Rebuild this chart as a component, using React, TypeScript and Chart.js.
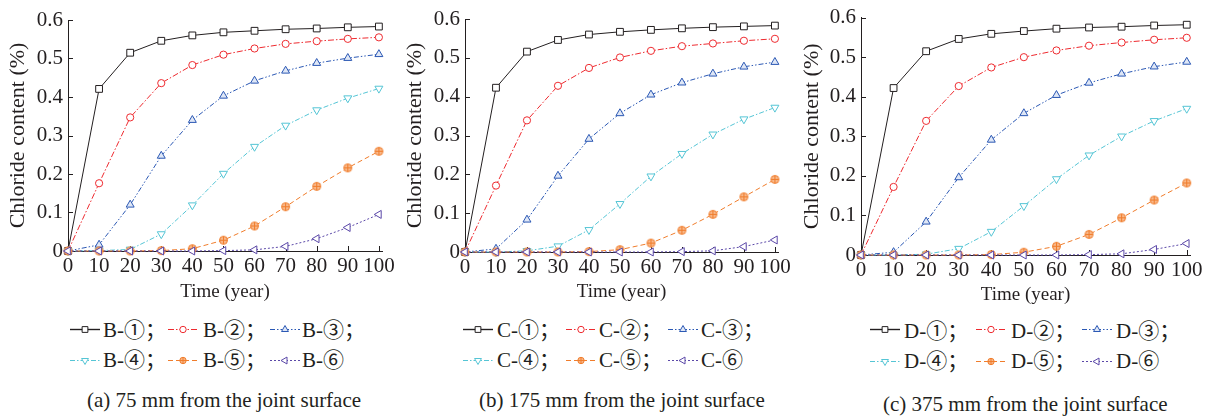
import React, { useEffect, useRef } from 'react';
import { Chart, registerables } from 'chart.js';

Chart.register(...registerables);

// ---------------- data ----------------
const YEARS = [0, 10, 20, 30, 40, 50, 60, 70, 80, 90, 100];
const X_TICKS = [0, 10, 20, 30, 40, 50, 60, 70, 80, 90, 100];
const Y_TICKS = [0, 0.1, 0.2, 0.3, 0.4, 0.5, 0.6];
const X_MAX = 101;
const Y_MAX = 0.6;

const B_1 = [0, 0.421, 0.515, 0.546, 0.56, 0.568, 0.572, 0.576, 0.578, 0.581, 0.583];
const B_2 = [0, 0.176, 0.347, 0.436, 0.483, 0.51, 0.526, 0.538, 0.545, 0.551, 0.555];
const B_3 = [0, 0.016, 0.12, 0.247, 0.34, 0.403, 0.442, 0.468, 0.488, 0.501, 0.511];
const B_4 = [0, 0.001, 0.004, 0.044, 0.119, 0.201, 0.271, 0.326, 0.366, 0.397, 0.422];
const B_5 = [0, 0, 0, 0.001, 0.006, 0.028, 0.065, 0.115, 0.168, 0.216, 0.259];
const B_6 = [0, 0, 0, 0, 0, 0.001, 0.003, 0.012, 0.032, 0.061, 0.095];

const C_1 = [0, 0.423, 0.516, 0.546, 0.56, 0.567, 0.572, 0.576, 0.579, 0.581, 0.583];
const C_2 = [0, 0.171, 0.339, 0.428, 0.474, 0.501, 0.518, 0.53, 0.537, 0.544, 0.549];
const C_3 = [0, 0.008, 0.083, 0.196, 0.291, 0.357, 0.405, 0.436, 0.459, 0.477, 0.489];
const C_4 = [0, 0, 0.003, 0.015, 0.057, 0.124, 0.195, 0.253, 0.303, 0.342, 0.372];
const C_5 = [0, 0, 0, 0, 0.001, 0.006, 0.023, 0.056, 0.097, 0.142, 0.187];
const C_6 = [0, 0, 0, 0, 0, 0, 0, 0.001, 0.003, 0.014, 0.031];

const D_1 = [0, 0.422, 0.515, 0.546, 0.559, 0.566, 0.572, 0.575, 0.577, 0.58, 0.582];
const D_2 = [0, 0.172, 0.339, 0.427, 0.474, 0.5, 0.517, 0.529, 0.537, 0.544, 0.549];
const D_3 = [0, 0.007, 0.084, 0.196, 0.291, 0.358, 0.404, 0.435, 0.458, 0.476, 0.488];
const D_4 = [0, 0, 0.002, 0.016, 0.059, 0.124, 0.192, 0.252, 0.3, 0.339, 0.37];
const D_5 = [0, 0, 0, 0, 0.001, 0.007, 0.022, 0.052, 0.094, 0.139, 0.182];
const D_6 = [0, 0, 0, 0, 0, 0, 0, 0.001, 0.003, 0.014, 0.029];

const PANEL_SERIES = [
  [B_1, B_2, B_3, B_4, B_5, B_6],
  [C_1, C_2, C_3, C_4, C_5, C_6],
  [D_1, D_2, D_3, D_4, D_5, D_6],
];
const PANEL_PREFIX = ['B', 'C', 'D'];
const SERIES_MARK = ['①', '②', '③', '④', '⑤', '⑥'];
const CAPTIONS = [
  '(a) 75 mm from the joint surface',
  '(b) 175 mm from the joint surface',
  '(c) 375 mm from the joint surface',
];
const Y_TITLE = 'Chloride content (%)';
const X_TITLE = 'Time (year)';

// ---------------- styles / layout ----------------
const SERIF = "'Liberation Serif', 'Times New Roman', serif";
const LEGEND_FONT = "'Liberation Serif', 'Noto Sans CJK SC', serif";
const INK = '#231f20';

type Style = { color: string; dash: number[]; kind: string; radius: number; fill: string; rotation: number };
const STYLES: Style[] = [
  { color: '#231f20', dash: [], kind: 'rect', radius: 4.8, fill: '#ffffff', rotation: 0 },
  { color: '#ee2a2f', dash: [6, 2, 1.5, 2], kind: 'circle', radius: 3.6, fill: '#ffffff', rotation: 0 },
  { color: '#2b58b4', dash: [5, 2, 1.5, 2, 1.5, 2], kind: 'triangle', radius: 4.6, fill: '#dfe7f6', rotation: 0 },
  { color: '#55c5d5', dash: [5, 2, 1.5, 2], kind: 'triangle', radius: 4.6, fill: '#ffffff', rotation: 180 },
  { color: '#f07d2c', dash: [5, 3], kind: 'crosscircle', radius: 4, fill: '#f8b88a', rotation: 0 },
  { color: '#5b48a8', dash: [2, 2], kind: 'triangle', radius: 4.6, fill: '#ffffff', rotation: -90 },
];

const GEOM = [
  { left: 0, w: 410, h: 310, l: 68, r: 382, t: 20, b: 251, yTitleX: 18, xTitleY: 292 },
  { left: 395, w: 410, h: 310, l: 70, r: 383, t: 19, b: 252, yTitleX: 20, xTitleY: 292 },
  { left: 795, w: 420, h: 310, l: 66, r: 395, t: 15, b: 255, yTitleX: 17, xTitleY: 295 },
];

const LEG_SAMPLE_X = [
  [70, 168, 270],
  [463, 566, 668],
  [870, 976, 1082],
];
const LEG_TEXT_X = [
  [103, 203, 302],
  [497, 599, 701],
  [904, 1011, 1116],
];
const LEG_ROW_BASE = [
  [337, 367],
  [337, 367],
  [338, 368],
];
const LEG_ROW_MID = [
  [329, 360],
  [329, 360],
  [329, 361],
];
const CAP_X = [87, 479, 883];
const CAP_BASE = [407, 407, 411];

const Y_TITLE_SIZE = 22;
const X_TITLE_SIZE = 19;
const TICK_SIZE = 21;

function crossCircle(color: string, fill: string, r: number) {
  const c = document.createElement('canvas');
  const s = Math.ceil(r * 2 + 3);
  c.width = s;
  c.height = s;
  const ctx = c.getContext('2d')!;
  const m = s / 2;
  ctx.beginPath();
  ctx.arc(m, m, r, 0, Math.PI * 2);
  ctx.fillStyle = fill;
  ctx.fill();
  ctx.strokeStyle = color;
  ctx.lineWidth = 1;
  ctx.stroke();
  ctx.beginPath();
  ctx.moveTo(m - r, m);
  ctx.lineTo(m + r, m);
  ctx.moveTo(m, m - r);
  ctx.lineTo(m, m + r);
  ctx.stroke();
  return c;
}

const inwardTicks = {
  id: 'inwardTicks',
  beforeDatasetsDraw(chart: any) {
    const { ctx, chartArea, scales } = chart;
    ctx.save();
    ctx.strokeStyle = INK;
    ctx.lineWidth = 1;
    ctx.beginPath();
    for (const v of X_TICKS) {
      const px = Math.round(scales.x.getPixelForValue(v)) + 0.5;
      ctx.moveTo(px, chartArea.bottom);
      ctx.lineTo(px, chartArea.bottom - 5);
    }
    for (const v of Y_TICKS) {
      const py = Math.round(scales.y.getPixelForValue(v)) + 0.5;
      ctx.moveTo(chartArea.left, py);
      ctx.lineTo(chartArea.left + 5, py);
    }
    ctx.stroke();
    ctx.restore();
  },
};

function Panel({ index }: { index: number }) {
  const ref = useRef<HTMLCanvasElement>(null);
  const g = GEOM[index];
  useEffect(() => {
    const padLeft = g.yTitleX - (Y_TITLE_SIZE * 1.2) / 2;
    const bottomEdge = g.xTitleY + (X_TITLE_SIZE * 1.2) / 2;
    const padBottom = g.h - bottomEdge;
    const yWidth = g.l - padLeft;
    const xHeight = bottomEdge - g.b;
    const series = PANEL_SERIES[index];
    const datasets = series.map((vals, i) => {
      const st = STYLES[i];
      const pointStyle: any = st.kind === 'crosscircle' ? crossCircle(st.color, st.fill, st.radius) : st.kind;
      return {
        label: `${PANEL_PREFIX[index]}-${SERIES_MARK[i]}`,
        data: YEARS.map((x, j) => ({ x, y: vals[j] })),
        borderColor: st.color,
        backgroundColor: st.fill,
        borderWidth: 1,
        borderDash: st.dash,
        pointStyle,
        pointRadius: st.radius,
        pointHoverRadius: st.radius,
        pointBorderColor: st.color,
        pointBackgroundColor: st.fill,
        pointBorderWidth: 1,
        pointRotation: st.rotation,
        tension: 0,
        fill: false,
        clip: false as any,
        order: 5 - i,
      };
    });
    const chart = new Chart(ref.current!, {
      type: 'line',
      data: { datasets },
      plugins: [inwardTicks],
      options: {
        animation: false,
        responsive: false,
        devicePixelRatio: 1,
        events: [],
        layout: { padding: { left: padLeft, right: g.w - g.r, top: g.t, bottom: padBottom } },
        plugins: { legend: { display: false }, tooltip: { enabled: false } },
        scales: {
          x: {
            type: 'linear',
            min: 0,
            max: X_MAX,
            afterBuildTicks: (s: any) => {
              s.ticks = X_TICKS.map((v) => ({ value: v }));
            },
            afterFit: (s: any) => {
              s.height = xHeight;
            },
            grid: { display: false, drawTicks: false, tickLength: 0 },
            border: { display: true, color: INK, width: 1 },
            ticks: {
              padding: 3,
              maxRotation: 0,
              autoSkip: false,
              color: INK,
              font: { family: SERIF, size: TICK_SIZE, lineHeight: 1.2 },
              callback: (v: any) => String(v),
            },
            title: {
              display: true,
              text: X_TITLE,
              color: INK,
              padding: 0,
              font: { family: SERIF, size: X_TITLE_SIZE, lineHeight: 1.2 },
            },
          },
          y: {
            type: 'linear',
            min: 0,
            max: Y_MAX,
            afterBuildTicks: (s: any) => {
              s.ticks = Y_TICKS.map((v) => ({ value: v }));
            },
            afterFit: (s: any) => {
              s.width = yWidth;
            },
            grid: { display: false, drawTicks: false, tickLength: 0 },
            border: { display: true, color: INK, width: 1 },
            ticks: {
              padding: 5,
              autoSkip: false,
              color: INK,
              font: { family: SERIF, size: TICK_SIZE, lineHeight: 1.2 },
              callback: (v: any) => (Number(v) === 0 ? '0' : Number(v).toFixed(1)),
            },
            title: {
              display: true,
              text: Y_TITLE,
              color: INK,
              padding: 0,
              font: { family: SERIF, size: Y_TITLE_SIZE, lineHeight: 1.2 },
            },
          },
        },
      } as any,
    });
    return () => chart.destroy();
  }, []);
  return (
    <canvas
      ref={ref}
      width={g.w}
      height={g.h}
      style={{ position: 'absolute', left: g.left, top: 0, width: g.w, height: g.h }}
    />
  );
}

function drawMarker(ctx: CanvasRenderingContext2D, st: Style, x: number, y: number, r: number) {
  ctx.setLineDash([]);
  ctx.beginPath();
  if (st.kind === 'rect') {
    const s = r * 0.72;
    ctx.rect(x - s, y - s, 2 * s, 2 * s);
  } else if (st.kind === 'circle' || st.kind === 'crosscircle') {
    ctx.arc(x, y, r * 0.8, 0, Math.PI * 2);
  } else {
    let rad = (st.rotation * Math.PI) / 180;
    ctx.moveTo(x + Math.sin(rad) * r, y - Math.cos(rad) * r);
    for (let k = 0; k < 2; k++) {
      rad += (2 * Math.PI) / 3;
      ctx.lineTo(x + Math.sin(rad) * r, y - Math.cos(rad) * r);
    }
    ctx.closePath();
  }
  ctx.fillStyle = st.fill;
  ctx.fill();
  ctx.strokeStyle = st.color;
  ctx.lineWidth = 1;
  ctx.stroke();
  if (st.kind === 'crosscircle') {
    const rr = r * 0.8;
    ctx.beginPath();
    ctx.moveTo(x - rr, y);
    ctx.lineTo(x + rr, y);
    ctx.moveTo(x, y - rr);
    ctx.lineTo(x, y + rr);
    ctx.stroke();
  }
}

function LegendSample({ st, left, mid }: { st: Style; left: number; mid: number }) {
  const ref = useRef<HTMLCanvasElement>(null);
  useEffect(() => {
    const ctx = ref.current!.getContext('2d')!;
    ctx.clearRect(0, 0, 32, 14);
    ctx.strokeStyle = st.color;
    ctx.lineWidth = st.dash.length ? 1 : 1.4;
    ctx.setLineDash(st.dash);
    ctx.beginPath();
    ctx.moveTo(1, 7.5);
    ctx.lineTo(31, 7.5);
    ctx.stroke();
    drawMarker(ctx, st, 16, 7.5, 4);
  }, []);
  return (
    <canvas
      ref={ref}
      width={32}
      height={14}
      style={{ position: 'absolute', left: left - 1, top: mid - 7, width: 32, height: 14 }}
    />
  );
}

function Legend({ index }: { index: number }) {
  const items: React.ReactNode[] = [];
  for (let i = 0; i < 6; i++) {
    const row = Math.floor(i / 3);
    const col = i % 3;
    const text = `${PANEL_PREFIX[index]}-${SERIES_MARK[i]}${i < 5 ? '；' : ''}`;
    items.push(
      <LegendSample key={'s' + i} st={STYLES[i]} left={LEG_SAMPLE_X[index][col]} mid={LEG_ROW_MID[index][row]} />
    );
    items.push(
      <span
        key={'t' + i}
        style={{
          position: 'absolute',
          left: LEG_TEXT_X[index][col],
          top: LEG_ROW_BASE[index][row] - 19,
          fontFamily: LEGEND_FONT,
          fontSize: 21,
          lineHeight: '24px',
          whiteSpace: 'nowrap',
          color: INK,
        }}
      >
        {text}
      </span>
    );
  }
  items.push(
    <span
      key="cap"
      style={{
        position: 'absolute',
        left: CAP_X[index],
        top: CAP_BASE[index] - 19,
        fontFamily: SERIF,
        fontSize: 21,
        lineHeight: '24px',
        whiteSpace: 'nowrap',
        color: INK,
      }}
    >
      {CAPTIONS[index]}
    </span>
  );
  return <>{items}</>;
}

export default function App() {
  useEffect(() => {
    document.body.style.margin = '0';
  }, []);
  return (
    <div style={{ position: 'relative', width: 1205, height: 416, overflow: 'hidden', background: '#fff' }}>
      {[0, 1, 2].map((i) => (
        <React.Fragment key={i}>
          <Panel index={i} />
          <Legend index={i} />
        </React.Fragment>
      ))}
    </div>
  );
}
